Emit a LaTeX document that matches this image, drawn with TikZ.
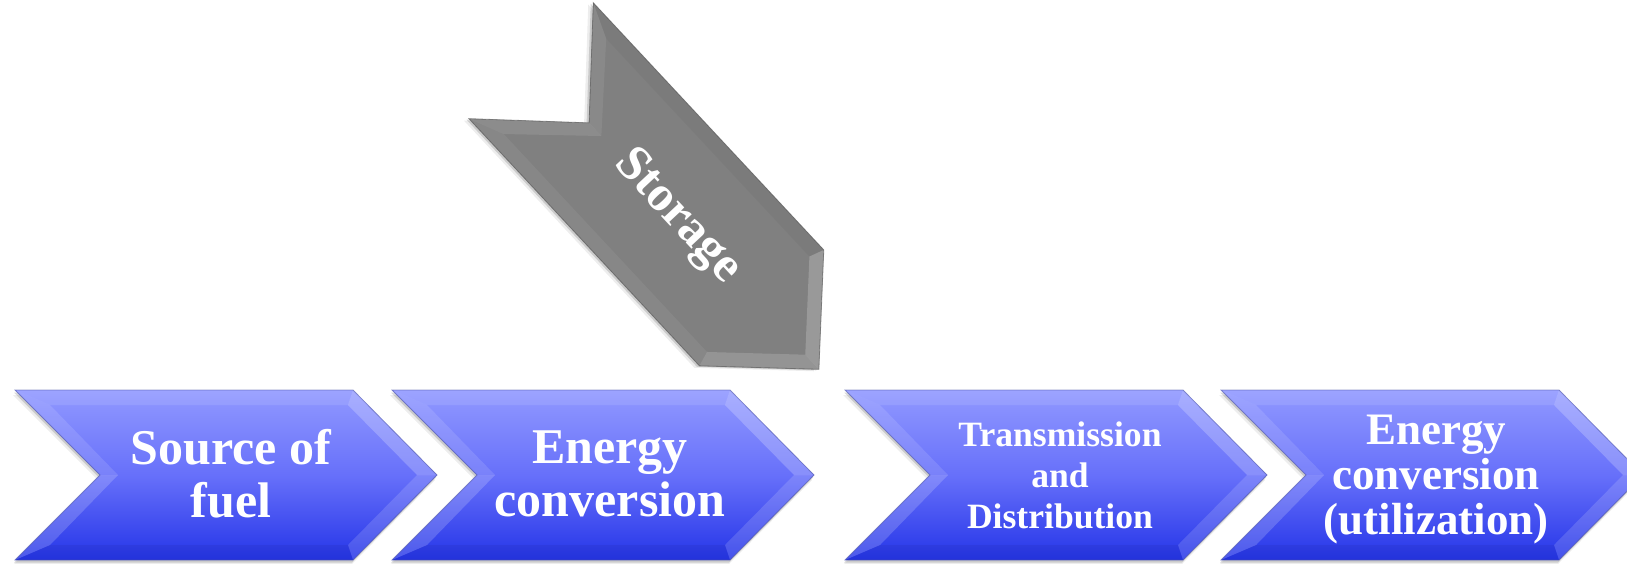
\documentclass[tikz,border=0pt]{standalone}
\usepackage{fontspec}
\setmainfont{Liberation Serif}
\definecolor{btop}{HTML}{9199FF}
\definecolor{bmid}{HTML}{6770FA}
\definecolor{bbot}{HTML}{2535E8}
\definecolor{bedge}{HTML}{4A52A8}
\definecolor{gbody}{HTML}{808080}
\definecolor{gedge}{HTML}{505050}
\newcommand\chevouter{(-211,-85) -- (127,-85) -- (211,0) -- (127,85) -- (-211,85) -- (-126,0) -- cycle}
\newcommand\fctop{(-211,-85) -- (127,-85) -- (122,-70) -- (-176,-70) -- cycle}
\newcommand\fcrup{(127,-85) -- (211,0) -- (191,0) -- (122,-70) -- cycle}
\newcommand\fcrlo{(211,0) -- (127,85) -- (122,70) -- (191,0) -- cycle}
\newcommand\fcbot{(127,85) -- (-211,85) -- (-176,70) -- (122,70) -- cycle}
\newcommand\fcllo{(-211,85) -- (-126,0) -- (-108,0) -- (-176,70) -- cycle}
\newcommand\fclup{(-126,0) -- (-211,-85) -- (-176,-70) -- (-108,0) -- cycle}
\tikzset{
  pics/bluechev/.style={code={
    \fill[black,opacity=.07,shift={(-2,5)}] \chevouter;
    \fill[black,opacity=.14,shift={(-1,2.5)}] \chevouter;
    \shade[top color=btop,bottom color=bbot,middle color=bmid] \chevouter;
    \fill[white,opacity=.10] \fctop;
    \fill[white,opacity=.22] \fcrup;
    \fill[white,opacity=.15] \fcrlo;
    \fill[black,opacity=.05] \fcbot;
    \fill[white,opacity=.18] \fcllo;
    \fill[white,opacity=.12] \fclup;
    \draw[bedge,line width=.8pt,opacity=.6,line join=miter] \chevouter;
  }},
  pics/graychev/.style={code={
    \fill[black,opacity=.07,shift={(-2,5)}] \chevouter;
    \fill[black,opacity=.14,shift={(-1,2.5)}] \chevouter;
    \fill[gbody] \chevouter;
    \fill[black,opacity=.03] \fctop;
    \fill[white,opacity=.20] \fcrup;
    \fill[white,opacity=.16] \fcrlo;
    \fill[white,opacity=.06] \fcbot;
    \fill[white,opacity=.10] \fcllo;
    \fill[white,opacity=.08] \fclup;
    \draw[gedge,line width=.8pt,opacity=.6,line join=miter] \chevouter;
  }},
  lbl/.style={text=white,align=center,inner sep=0pt},
}
\begin{document}
\begin{tikzpicture}[x=1pt,y=-1pt]
\useasboundingbox (0,0) rectangle (1627,563);
\fill[white] (0,0) rectangle (1627,563);
% chevrons
\pic at (226,475) {bluechev};
\pic at (603,475) {bluechev};
\pic at (1056,475) {bluechev};
\pic at (1432,475) {bluechev};
\pic[rotate=-47] at (675,215) {graychev};
% labels
\node[lbl,font=\fontsize{50}{53}\selectfont\bfseries] (src) at (231,474) {Source of\\fuel};
\node[lbl,font=\fontsize{50}{53}\selectfont\bfseries] (conv) at (610,474) {Energy\\conversion};
\node[lbl,font=\fontsize{35.6}{41}\selectfont\bfseries] (td) at (1060,475) {Transmission\\and\\Distribution};
\node[lbl,font=\fontsize{45}{45}\selectfont\bfseries] (util) at (1436,480) {Energy\\conversion\\(utilization)};
\node[lbl,rotate=-47,font=\fontsize{50}{54}\selectfont\bfseries] (stor) at (677,217) {Storage};
\end{tikzpicture}
\end{document}
